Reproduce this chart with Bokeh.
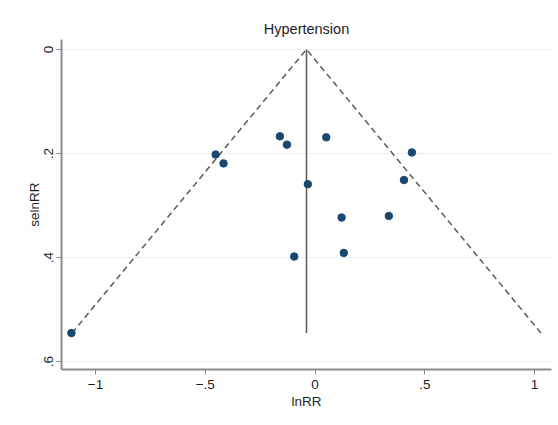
from bokeh.plotting import figure
from bokeh.models import Range1d, FixedTicker, ColumnDataSource
from bokeh.embed import file_html
from bokeh.resources import INLINE

# Study estimates: log relative risk and its standard error
ln_rr = [-1.11, -0.453, -0.417, -0.160, -0.128, 0.051, 0.441, -0.033, 0.405, 0.121, 0.336, -0.095, 0.131]
se_ln_rr = [0.545, 0.202, 0.219, 0.167, 0.183, 0.169, 0.198, 0.259, 0.251, 0.323, 0.320, 0.398, 0.391]

# Pooled (fixed-effect) estimate
pooled = -0.039

x_ticks = [-1, -0.5, 0, 0.5, 1]
x_tick_labels = ["\u22121", "\u2212.5", "0", ".5", "1"]
y_ticks = [0, 0.2, 0.4, 0.6]
y_tick_labels = ["0", ".2", ".4", ".6"]

FONT = "Liberation Sans"
AXIS_GREY = "#8c8c8c"
LINE_GREY = "#5a5a5a"

p = figure(
    width=558, height=425,
    x_range=Range1d(-1.155, 1.077),
    y_range=Range1d(0.615, -0.019),
    title="Hypertension",
    output_backend="svg", toolbar_location=None,
    min_border_left=61, min_border_right=7, min_border_top=39, min_border_bottom=56,
    background_fill_color="white", border_fill_color="white",
)
p.outline_line_color = None

# Title
p.title.align = "center"
p.title.text_font = FONT
p.title.text_font_size = "14.5px"
p.title.text_font_style = "normal"
p.title.text_color = "#1e1e1e"
p.title.standoff = 6

# Axes
for ax in (p.xaxis[0], p.yaxis[0]):
    ax.axis_line_color = AXIS_GREY
    ax.axis_line_width = 2
    ax.major_tick_line_color = AXIS_GREY
    ax.major_tick_out = 5
    ax.major_tick_in = 0
    ax.minor_tick_line_color = None
    ax.major_label_text_font = FONT
    ax.major_label_text_font_size = "13.5px"
    ax.major_label_text_color = "#1e1e1e"
    ax.axis_label_text_font = FONT
    ax.axis_label_text_font_size = "13.5px"
    ax.axis_label_text_font_style = "normal"
    ax.axis_label_text_color = "#1e1e1e"

p.xaxis.ticker = FixedTicker(ticks=x_ticks)
p.xaxis.major_label_overrides = dict(zip(x_ticks, x_tick_labels))
p.xaxis.axis_label = "lnRR"
p.xaxis.major_label_standoff = 5
p.xaxis.axis_label_standoff = 2

p.yaxis.ticker = FixedTicker(ticks=y_ticks)
p.yaxis.major_label_overrides = dict(zip(y_ticks, y_tick_labels))
p.yaxis.major_label_orientation = "vertical"
p.yaxis.axis_label = "selnRR"
p.yaxis.major_label_standoff = 3
p.yaxis.axis_label_standoff = 0

# Grid: horizontal only
p.xgrid.grid_line_color = None
p.ygrid.grid_line_color = "#e6eff1"
p.ygrid.grid_line_width = 1

# Funnel: pseudo 95% limits around the pooled estimate
se_max = max(se_ln_rr)
p.line([pooled - 1.96 * se_max, pooled, pooled + 1.96 * se_max],
       [se_max, 0, se_max],
       line_color=LINE_GREY, line_width=1.5, line_dash="6 4")
p.line([pooled, pooled], [0, se_max], line_color=LINE_GREY, line_width=1.5)

src = ColumnDataSource(dict(x=ln_rr, y=se_ln_rr))
p.scatter("x", "y", source=src, size=7.5, fill_color="#1a476f", line_color="#1a476f")

open("out.html", "w").write(file_html(p, INLINE))
